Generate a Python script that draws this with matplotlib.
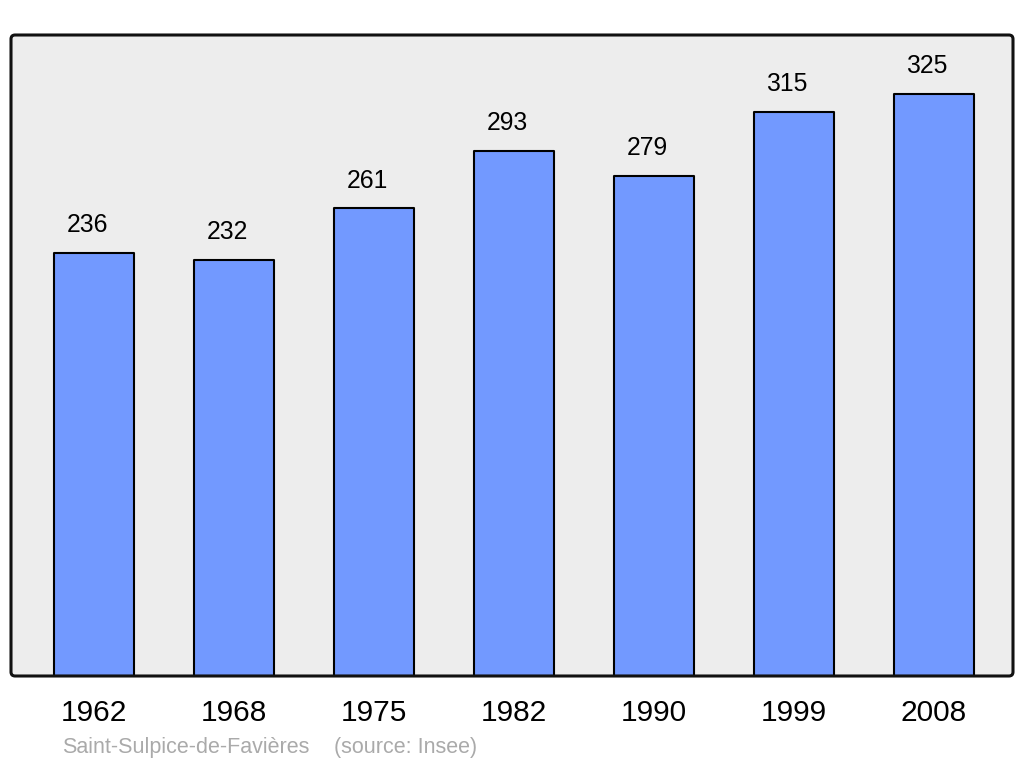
import numpy as np
import matplotlib.pyplot as plt
from matplotlib.patches import FancyBboxPatch

plt.rcParams['font.family'] = ['Liberation Sans', 'DejaVu Sans']

years = ['1962', '1968', '1975', '1982', '1990', '1999', '2008']
population = [236, 232, 261, 293, 279, 315, 325]
commune = 'Saint-Sulpice-de-Favières'
source = '(source: Insee)'

fig = plt.figure(figsize=(10.24, 7.65), dpi=100)
ax = fig.add_axes([11/1024, 89/765, 1002/1024, 641/765])
ax.set_facecolor('#ededed')

x = np.arange(len(years))
bars = ax.bar(x, population, width=0.575, color='#7299ff', edgecolor='black',
              linewidth=1.5, zorder=2)
for b in bars:
    b.set_joinstyle('round')

# value labels sit a little left of the bar centre, like the original
for xi, v in zip(x, population):
    ax.annotate(str(v), (xi, v), xytext=(-5, 20), textcoords='offset points',
                ha='center', va='center', fontsize=17.8)
    ax.text(xi, -0.0585, years[xi], transform=ax.get_xaxis_transform(),
            ha='center', va='center', fontsize=21.5)

ax.set_xlim(-0.593, 6.564)
ax.set_ylim(0, 357.7)
ax.set_xticks([])
ax.set_yticks([])
for s in ax.spines.values():
    s.set_visible(False)

frame = FancyBboxPatch((11/1024, 89/765), 1002/1024, 641/765,
                       boxstyle='round,pad=0,rounding_size=0.004',
                       mutation_aspect=1024/765, transform=fig.transFigure,
                       facecolor='none', edgecolor='#111111', linewidth=2.2, zorder=5)
fig.add_artist(frame)

fig.text(62/1024, 1 - 747/765, commune, ha='left', va='center', fontsize=15.5, color='#aaaaaa')
fig.text(334/1024, 1 - 747/765, source, ha='left', va='center', fontsize=15.5, color='#aaaaaa')

fig.savefig('out.png', dpi=100)
